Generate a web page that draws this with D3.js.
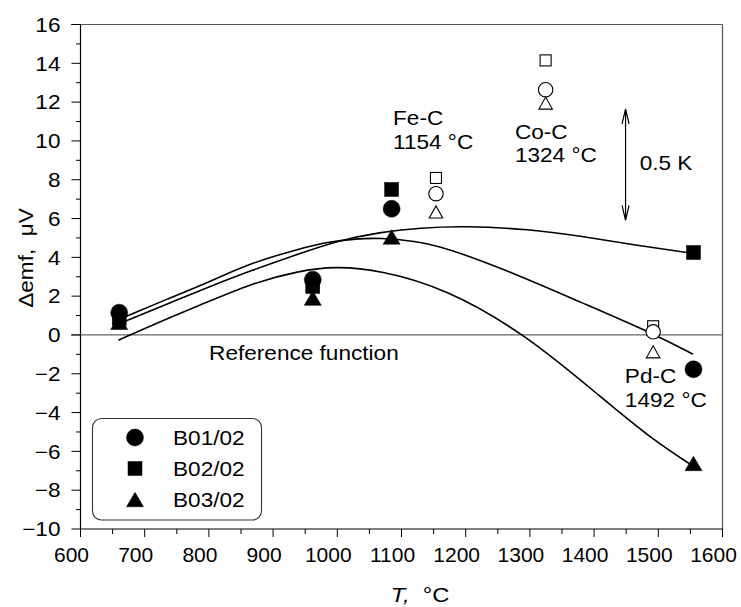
<!DOCTYPE html>
<html>
<head>
<meta charset="utf-8">
<script src="https://cdn.jsdelivr.net/npm/d3@7"></script>
<style>
  body { margin: 0; background: #fff; }
  text { font-family: Arial, "Liberation Sans", sans-serif; fill: #000; }
</style>
</head>
<body>
<svg width="741" height="607"></svg>
<script>
// fixed points (filled markers) and the three fixed points drawn open
var fixedT = [660.3, 961.8, 1084.6, 1554.8];
var openT = [1153.7, 1324.5, 1492];

var seriesNames = ['B01/02', 'B02/02', 'B03/02'];
var seriesShapes = ['circle', 'square', 'triangle'];
var filledB01 = [1.15, 2.85, 6.5, -1.77];
var filledB02 = [0.85, 2.5, 7.5, 4.25];
var filledB03 = [0.65, 1.9, 5.05, -6.62];
var openB01 = [7.28, 12.64, 0.16];
var openB02 = [8.09, 14.15, 0.45];
var openB03 = [6.34, 11.95, -0.87];

// fitted curves
var curveB01T = [669, 735, 802, 864, 942, 984, 1030, 1066, 1120, 1170, 1274, 1378, 1497, 1554];
var curveB01V = [0.93, 1.85, 2.75, 3.7, 4.45, 4.79, 4.96, 5.0, 4.85, 4.5, 3.2, 1.7, 0.0, -0.99];
var curveB02T = [669, 735, 802, 864, 942, 1000, 1066, 1130, 1196, 1300, 1378, 1460, 1555];
var curveB02V = [0.7, 1.6, 2.5, 3.3, 4.2, 4.85, 5.3, 5.52, 5.62, 5.45, 5.1, 4.65, 4.2];
var curveB03T = [659, 735, 802, 870, 940, 996, 1066, 1170, 1295, 1414, 1492, 1552];
var curveB03V = [-0.27, 0.85, 1.75, 2.7, 3.3, 3.54, 3.35, 2.39, 0.0, -3.3, -5.42, -6.71];

var xTicks = [600, 700, 800, 900, 1000, 1100, 1200, 1300, 1400, 1500, 1600];
var yTicks = [-10, -8, -6, -4, -2, 0, 2, 4, 6, 8, 10, 12, 14, 16];

var svg = d3.select('svg');

var x = d3.scaleLinear().domain([600, 1600]).range([80.5, 722.5]);
var y = d3.scaleLinear().domain([-10, 16]).range([529, 24.5]);

// text is a bit wider than Arial in the original
var SX = 1.13
function wtext(g, px, py, size) {
    return g.append('text')
        .attr('transform', 'translate(' + px + ',' + py + ') scale(' + SX + ',1)')
        .attr('font-size', size)
}

// frame: top and right in grey
svg.append('line')
    .attr('x1', 71).attr('x2', x(1600))
    .attr('y1', y(16)).attr('y2', y(16))
    .attr('stroke', '#555').attr('stroke-width', 1.2)
svg.append('line')
    .attr('x1', x(1600)).attr('x2', x(1600))
    .attr('y1', y(16)).attr('y2', y(-10))
    .attr('stroke', '#555').attr('stroke-width', 1.2)

// zero line (reference function)
svg.append('line')
    .attr('x1', 71).attr('x2', x(1600))
    .attr('y1', y(0)).attr('y2', y(0))
    .attr('stroke', '#666').attr('stroke-width', 1.2)

// y axis
var yAxis = svg.append('g').attr('transform', 'translate(' + x(600) + ',0)')
yAxis.append('line').attr('y1', y(16)).attr('y2', y(-10)).attr('stroke', '#000').attr('stroke-width', 1.2)
yAxis.selectAll('.minor').data(d3.range(-9, 16, 2)).enter().append('line')
    .attr('x1', -4.5).attr('x2', 0)
    .attr('y1', d => y(d)).attr('y2', d => y(d))
    .attr('stroke', '#000')
yAxis.selectAll('.major').data(yTicks).enter().append('line')
    .attr('x1', -9).attr('x2', 0)
    .attr('y1', d => y(d)).attr('y2', d => y(d))
    .attr('stroke', '#000')
yTicks.forEach(function(d) {
    wtext(yAxis, -20, y(d), 20)
        .attr('dy', '0.36em')
        .attr('text-anchor', 'end')
        .text(d < 0 ? '\u2212' + Math.abs(d) : d)
})

// x axis
var xAxis = svg.append('g').attr('transform', 'translate(0,' + y(-10) + ')')
xAxis.append('line').attr('x1', x(600)).attr('x2', x(1600)).attr('stroke', '#000').attr('stroke-width', 1.2)
xAxis.selectAll('.minor').data(d3.range(650, 1600, 100)).enter().append('line')
    .attr('x1', d => x(d)).attr('x2', d => x(d))
    .attr('y1', 0).attr('y2', 5)
    .attr('stroke', '#000')
xAxis.selectAll('.major').data(xTicks).enter().append('line')
    .attr('x1', d => x(d)).attr('x2', d => x(d))
    .attr('y1', 0).attr('y2', 8)
    .attr('stroke', '#000')
xAxis.selectAll('.lbl').data(xTicks).enter().append('text')
    .attr('x', d => x(d) - 9).attr('y', 33)
    .attr('text-anchor', 'middle')
    .attr('font-size', 21)
    .text(d => d)

// axis titles
svg.append('text')
    .attr('transform', 'translate(33,258) rotate(-90) scale(' + SX + ',1)')
    .attr('text-anchor', 'middle')
    .attr('font-size', 20)
    .text('\u0394emf,\u00a0\u00a0\u03bcV')

var xt = wtext(svg, 420, 602, 21).attr('text-anchor', 'middle')
xt.append('tspan').attr('font-style', 'italic').text('T,')
xt.append('tspan').text('\u00a0\u00a0\u00b0C')

// fitted curves
var line = d3.line()
    .x(d => x(d[0])).y(d => y(d[1]))
    .curve(d3.curveBasis)
var curves = [[curveB01T, curveB01V], [curveB02T, curveB02V], [curveB03T, curveB03V]]
curves.forEach(function(c) {
    svg.append('path')
        .datum(d3.zip(c[0], c[1]))
        .attr('d', line)
        .attr('fill', 'none')
        .attr('stroke', '#000')
        .attr('stroke-width', 1.6)
})

// marker helper
function marker(g, shape, cx, cy, big, filled) {
    var m;
    if (shape == 'circle') {
        m = g.append('circle').attr('cx', cx).attr('cy', cy).attr('r', big ? 8.5 : 7.2)
    } else if (shape == 'square') {
        var s = big ? 14 : 11
        m = g.append('rect').attr('x', cx - s/2).attr('y', cy - s/2).attr('width', s).attr('height', s)
    } else {
        var w = big ? 17 : 13.5, h = big ? 14.5 : 12
        m = g.append('path').attr('d', 'M' + (cx - w/2) + ',' + (cy + h/2) + 'L' + (cx + w/2) + ',' + (cy + h/2) + 'L' + cx + ',' + (cy - h/2) + 'Z')
    }
    m.attr('fill', filled ? '#000' : '#fff')
     .attr('stroke', '#000')
     .attr('stroke-width', filled ? 0.5 : 1.1)
}

var filled = [filledB01, filledB02, filledB03]
var open = [openB01, openB02, openB03]
var pts = svg.append('g')
// triangles first, then squares, circles on top
;[2, 1, 0].forEach(function(i) {
    fixedT.forEach(function(t, j) {
        marker(pts, seriesShapes[i], x(t), y(filled[i][j]), true, true)
    })
})
;[1, 2, 0].forEach(function(i) {
    openT.forEach(function(t, j) {
        marker(pts, seriesShapes[i], x(t), y(open[i][j]), false, false)
    })
})

// annotations
function label(t, v, txt) {
    wtext(svg, x(t), y(v), 20).text(txt)
}
label(1086.8, 10.8, 'Fe-C')
label(1086.8, 9.6, '1154 \u00b0C')
label(1276.6, 10.12, 'Co-C')
label(1276.6, 8.91, '1324 \u00b0C')
label(1471, 8.49, '0.5 K')
label(800.3, -1.3, 'Reference function')
label(1447.9, -2.5, 'Pd-C')
label(1447.9, -3.71, '1492 \u00b0C')

// 0.5 K arrow
var arrowT = 1449, arrowFrom = 5.9, arrowTo = 11.65
var ax = x(arrowT), ay1 = y(arrowTo), ay2 = y(arrowFrom)
svg.append('path')
    .attr('d', 'M' + ax + ',' + ay1 + 'L' + ax + ',' + ay2 +
        'M' + (ax - 3.5) + ',' + (ay1 + 15) + 'L' + ax + ',' + ay1 + 'L' + (ax + 3.5) + ',' + (ay1 + 15) +
        'M' + (ax - 3.5) + ',' + (ay2 - 15) + 'L' + ax + ',' + ay2 + 'L' + (ax + 3.5) + ',' + (ay2 - 15))
    .attr('fill', 'none')
    .attr('stroke', '#000')
    .attr('stroke-width', 1.2)

// legend
var legend = svg.append('g')
legend.append('rect')
    .attr('x', 92.5).attr('y', 418.5)
    .attr('width', 169).attr('height', 101.5)
    .attr('rx', 9).attr('ry', 9)
    .attr('fill', '#fff')
    .attr('stroke', '#333').attr('stroke-width', 1.1)
seriesNames.forEach(function(n, i) {
    var ly = 437.5 + i * 31
    marker(legend, seriesShapes[i], 135, ly, true, true)
    wtext(legend, 173, ly, 20).attr('dy', '0.36em').text(n)
})
</script>
</body>
</html>
